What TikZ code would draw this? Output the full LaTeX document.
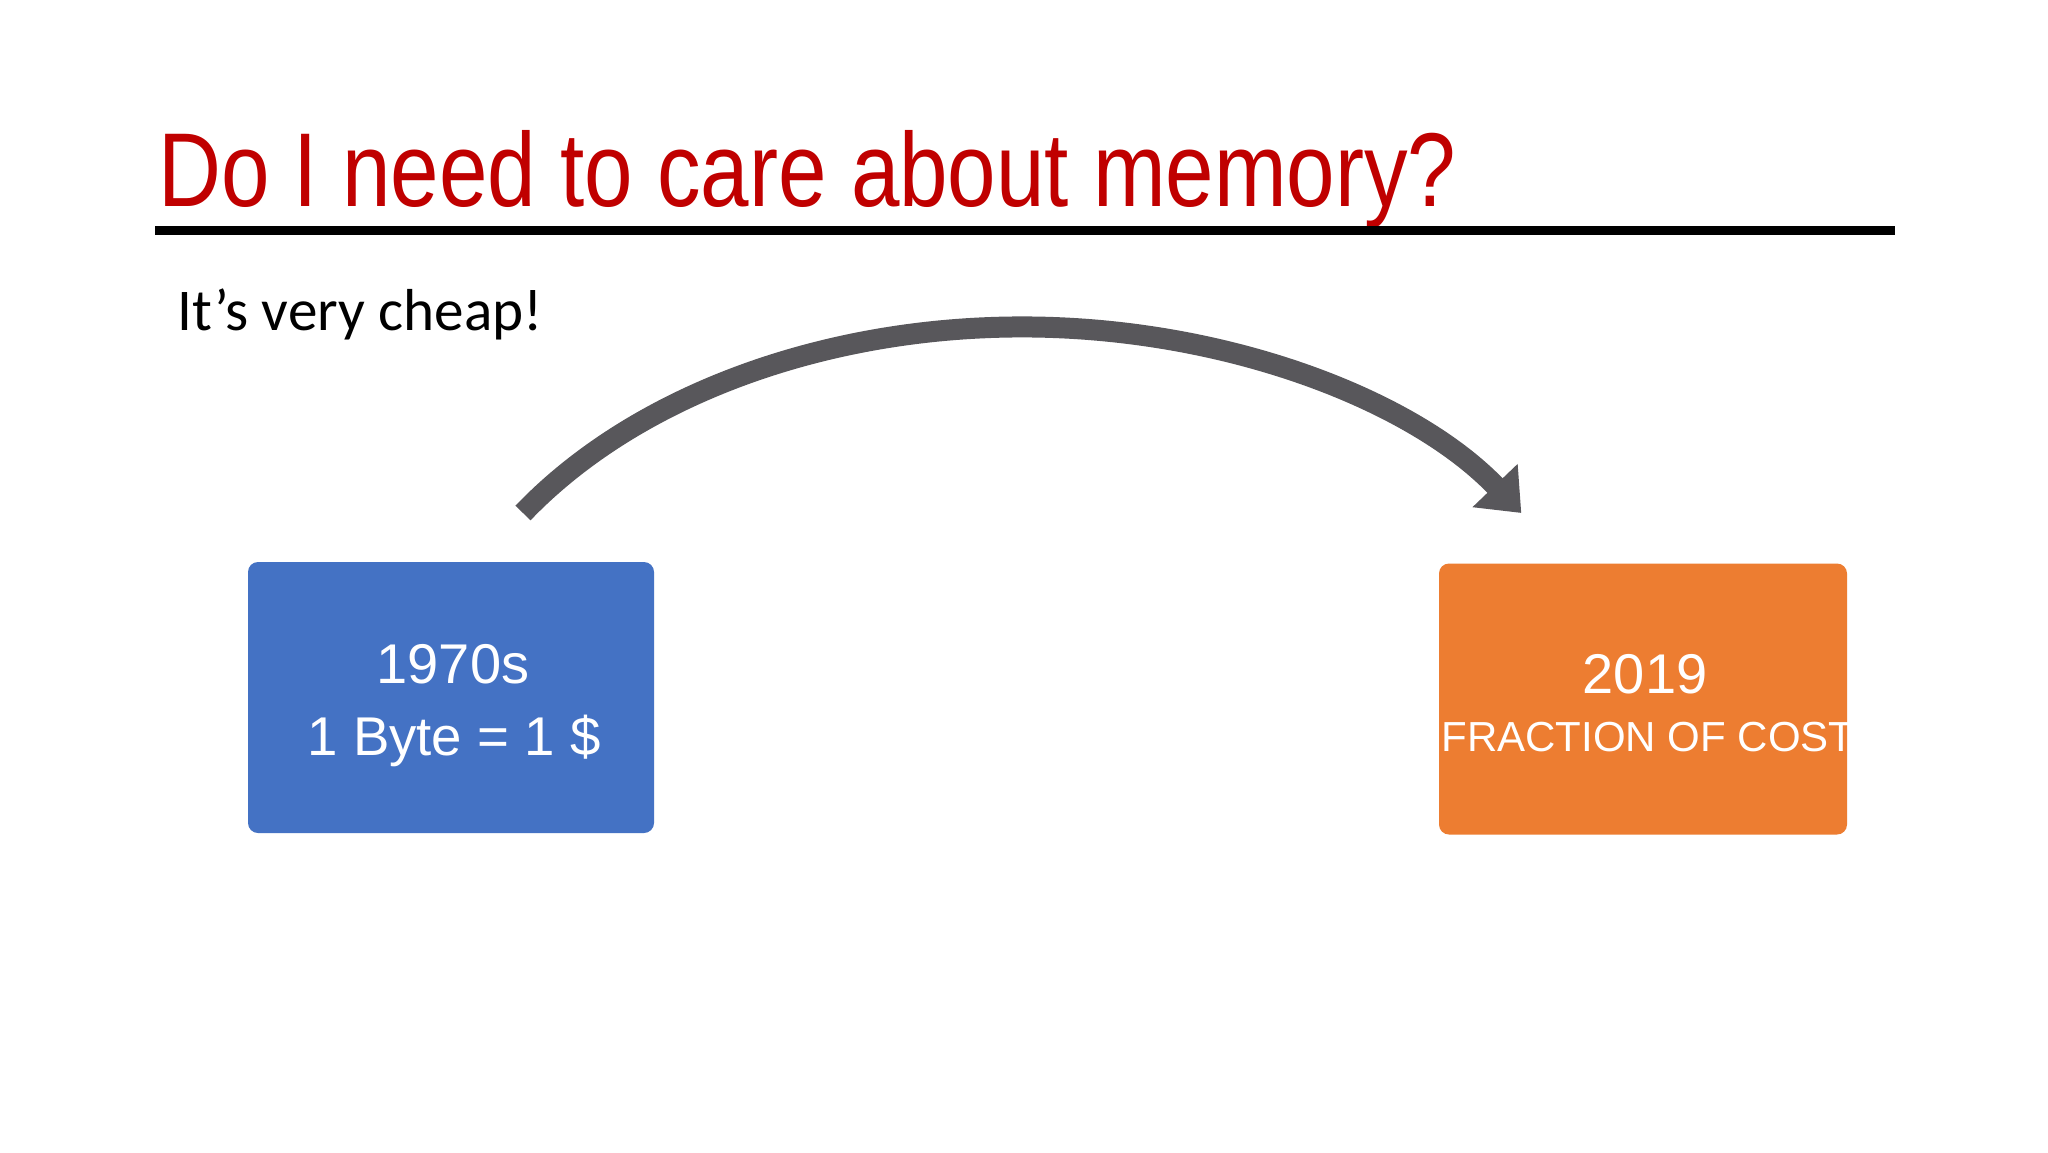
\documentclass[tikz,border=0pt]{standalone}
\usepackage{fontspec}
\setmainfont{Liberation Sans}
\newfontfamily\titlefont[FakeStretch=0.83]{Liberation Sans}
\newfontfamily\bodyfont{Carlito}
\usetikzlibrary{arrows.meta}
\definecolor{titlered}{HTML}{C00000}
\definecolor{boxblue}{HTML}{4472C4}
\definecolor{boxorange}{HTML}{ED7D31}
\definecolor{arrowgray}{HTML}{58575B}
\tikzset{
  box/.style={draw=none, rounded corners=5pt, minimum width=#1, minimum height=135.5pt, inner sep=0pt},
  boxtext/.style={text=white, inner sep=0pt, anchor=base},
  bigarrow/.style={draw=arrowgray, line width=10.5pt, -{Triangle[width=30pt,length=19pt]}},
}
\begin{document}
\begin{tikzpicture}[x=0.5pt, y=-0.5pt]
\useasboundingbox[fill=white] (0,0) rectangle (2048,1152);
% title
\node[anchor=base west, inner sep=0pt, text=titlered, font=\titlefont\fontsize{52.5pt}{60pt}\selectfont] (title) at (158,206) {Do I need to care about memory?};
\coordinate (ruleL) at (155,230.5);
\coordinate (ruleR) at (1895,230.5);
\draw[line width=4.5pt] (ruleL) -- (ruleR);
% subtitle
\node[anchor=base west, inner sep=0pt, font=\bodyfont\fontsize{29.6pt}{34pt}\selectfont] (cheap) at (177,330) {It’s very cheap!};
% boxes
\node[box=203pt, fill=boxblue] (old) at (451,697.5) {};
\node[box=204pt, fill=boxorange] (new) at (1643,699) {};
\node[boxtext, font=\fontsize{28pt}{32pt}\selectfont] (oldA) at (453,683) {1970s};
\node[boxtext, font=\fontsize{27.3pt}{32pt}\selectfont] (oldB) at (454,755) {1 Byte = 1 \$};
\node[boxtext, font=\fontsize{28pt}{32pt}\selectfont] (newA) at (1645,693) {2019};
\node[text=white, inner sep=0pt, anchor=base west, font=\fontsize{21pt}{24pt}\selectfont] (newB) at (1441,751) {FRACTION OF COST};
% arrow
\coordinate (arrS) at (523,513);
\path[bigarrow] (arrS) arc[start angle=146.3, end angle=33.7, x radius=300pt, y radius=209pt] coordinate (arrE);
\end{tikzpicture}
\end{document}
